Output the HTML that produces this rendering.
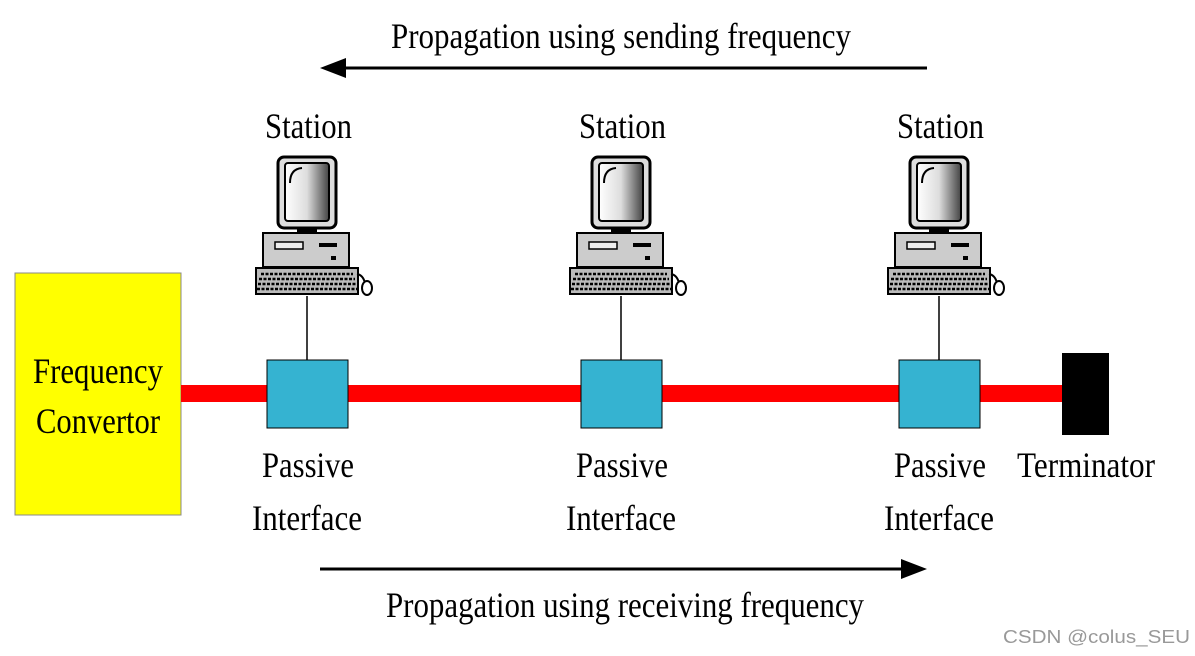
<!DOCTYPE html>
<html><head><style>body{margin:0;background:#fff}svg{display:block}</style></head><body>
<svg width="1195" height="656" viewBox="0 0 1195 656" xmlns="http://www.w3.org/2000/svg" font-family="Liberation Serif, serif">
<defs>
<linearGradient id="scr" x1="0" x2="1" y1="0" y2="0"><stop offset="0" stop-color="#fff"/><stop offset="0.5" stop-color="#ddd"/><stop offset="1" stop-color="#444"/></linearGradient>
<g id="pc">
 <rect x="-29" y="0" width="58" height="71" rx="6" fill="#ddd" stroke="#000" stroke-width="3"/>
 <rect x="-22" y="6" width="44" height="58" rx="3" fill="url(#scr)" stroke="#000" stroke-width="2"/>
 <path d="M-17 26 Q-17 12 -5 11" stroke="#000" stroke-width="2" fill="none"/>
 <rect x="-10" y="71" width="20" height="5" fill="#000"/>
 <rect x="-44" y="76" width="86" height="34" fill="#ccc" stroke="#000" stroke-width="2"/>
 <rect x="-32" y="85" width="28" height="7" fill="#eee" stroke="#000" stroke-width="1.5"/>
 <rect x="12" y="86" width="18" height="4" fill="#000"/>
 <rect x="24" y="99" width="5" height="4" fill="#000"/>
 <rect x="-51" y="111" width="102" height="26" fill="#bbb" stroke="#000" stroke-width="2"/>
 <path d="M-46 117H46M-48 122H48M-49 127H49M-50 132H50" stroke="#000" stroke-width="2.5" stroke-dasharray="3 1.5"/>
 <path d="M50 117 Q56 118 58 126" stroke="#000" stroke-width="2" fill="none"/>
 <ellipse cx="60" cy="131" rx="5" ry="7" fill="#fff" stroke="#000" stroke-width="2"/>
</g>
</defs>
<text x="391" y="48" font-size="36" textLength="460" lengthAdjust="spacingAndGlyphs">Propagation using sending frequency</text>
<line x1="340" y1="68" x2="927" y2="68" stroke="#000" stroke-width="3"/>
<polygon points="320,68 346,58 346,78" fill="#000"/>

<rect x="15" y="273" width="166" height="242" fill="#ffff00" stroke="#888" stroke-width="1"/>
<text x="33" y="383" font-size="36" textLength="130" lengthAdjust="spacingAndGlyphs">Frequency</text>
<text x="36" y="433" font-size="36" textLength="124" lengthAdjust="spacingAndGlyphs">Convertor</text>

<rect x="181" y="385" width="881" height="17" fill="#ff0000"/>
<rect x="1062" y="353" width="47" height="82" fill="#000"/>
<text x="1017" y="477" font-size="36" textLength="138" lengthAdjust="spacingAndGlyphs">Terminator</text>

<g>
<text x="265" y="138" font-size="36" textLength="87" lengthAdjust="spacingAndGlyphs">Station</text>
<use href="#pc" x="307" y="157"/>
<line x1="307" y1="296" x2="307" y2="360" stroke="#000" stroke-width="1.5"/>
<rect x="267" y="360" width="81" height="68" fill="#35b3d1" stroke="#000" stroke-width="1"/>
<text x="262" y="477" font-size="36" textLength="92" lengthAdjust="spacingAndGlyphs">Passive</text>
<text x="252" y="530" font-size="36" textLength="110" lengthAdjust="spacingAndGlyphs">Interface</text>
</g>
<g>
<text x="579" y="138" font-size="36" textLength="87" lengthAdjust="spacingAndGlyphs">Station</text>
<use href="#pc" x="621" y="157"/>
<line x1="621" y1="296" x2="621" y2="360" stroke="#000" stroke-width="1.5"/>
<rect x="581" y="360" width="81" height="68" fill="#35b3d1" stroke="#000" stroke-width="1"/>
<text x="576" y="477" font-size="36" textLength="92" lengthAdjust="spacingAndGlyphs">Passive</text>
<text x="566" y="530" font-size="36" textLength="110" lengthAdjust="spacingAndGlyphs">Interface</text>
</g>
<g>
<text x="897" y="138" font-size="36" textLength="87" lengthAdjust="spacingAndGlyphs">Station</text>
<use href="#pc" x="939" y="157"/>
<line x1="939" y1="296" x2="939" y2="360" stroke="#000" stroke-width="1.5"/>
<rect x="899" y="360" width="81" height="68" fill="#35b3d1" stroke="#000" stroke-width="1"/>
<text x="894" y="477" font-size="36" textLength="92" lengthAdjust="spacingAndGlyphs">Passive</text>
<text x="884" y="530" font-size="36" textLength="110" lengthAdjust="spacingAndGlyphs">Interface</text>
</g>

<line x1="320" y1="569" x2="905" y2="569" stroke="#000" stroke-width="3"/>
<polygon points="927,569 901,559 901,579" fill="#000"/>
<text x="386" y="617" font-size="36" textLength="478" lengthAdjust="spacingAndGlyphs">Propagation using receiving frequency</text>

<text x="1003" y="643" font-size="18" fill="#999" font-family="Liberation Sans, sans-serif" textLength="187" lengthAdjust="spacingAndGlyphs">CSDN @colus_SEU</text>
</svg>
</body></html>
